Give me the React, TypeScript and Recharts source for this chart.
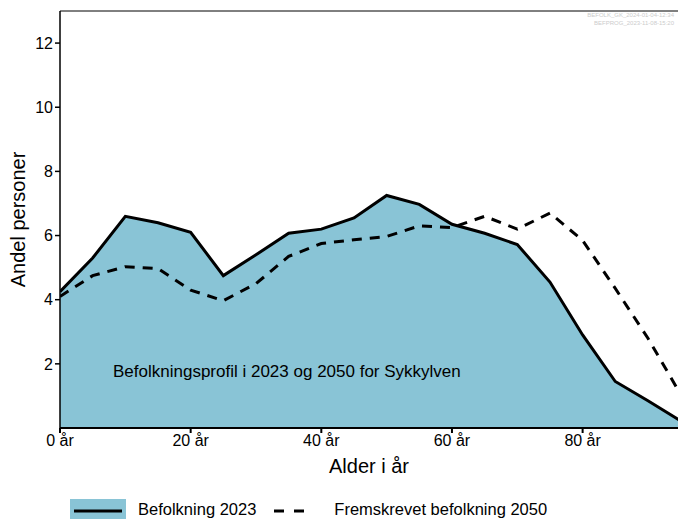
import React from 'react';
import { ComposedChart, Area, Line, XAxis, YAxis, ReferenceLine } from 'recharts';

const ages = [0, 5, 10, 15, 20, 25, 30, 35, 40, 45, 50, 55, 60, 65, 70, 75, 80, 85, 90, 95];
const pop2023 = [4.25, 5.3, 6.6, 6.4, 6.1, 4.75, 5.4, 6.07, 6.2, 6.55, 7.25, 6.97, 6.35, 6.07, 5.72, 4.55, 2.9, 1.45, 0.85, 0.22];
const pop2050 = [4.1, 4.75, 5.03, 4.97, 4.3, 3.97, 4.5, 5.35, 5.75, 5.87, 5.97, 6.3, 6.25, 6.6, 6.2, 6.7, 5.85, 4.35, 2.8, 1.05];
const xTicks = [0, 20, 40, 60, 80];
const yTicks = [2, 4, 6, 8, 10, 12];

const data = ages.map((a, i) => ({ age: a, p2023: pop2023[i], p2050: pop2050[i] }));

const FONT = '"Liberation Sans", Arial, sans-serif';
const FILL = '#89C4D6';

export default function App() {
  return (
    <div style={{ position: 'absolute', left: 0, top: 0, width: 678, height: 519, background: '#fff', fontFamily: FONT }}>
      <ComposedChart width={678} height={519} data={data} margin={{ top: 11, right: 0, left: 0, bottom: 0 }}>
        <XAxis
          dataKey="age"
          type="number"
          domain={[0, 94.6]}
          allowDataOverflow
          ticks={xTicks}
          tickFormatter={(v) => `${v} år`}
          height={91}
          stroke="#000"
          strokeWidth={2}
          tickSize={5}
          tick={{ fill: '#000', fontSize: 16, fontFamily: FONT }}
          label={{ value: 'Alder i år', position: 'insideTop', offset: 31, fill: '#000', fontSize: 20, fontFamily: FONT }}
        />
        <YAxis
          type="number"
          domain={[0, 13]}
          ticks={yTicks}
          width={60}
          stroke="#000"
          strokeWidth={1.5}
          tickSize={5}
          tick={{ fill: '#000', fontSize: 16, fontFamily: FONT }}
          label={{ value: 'Andel personer', angle: -90, position: 'insideLeft', offset: 18, fill: '#000', fontSize: 20, fontFamily: FONT, style: { textAnchor: 'middle' } }}
        />
        <ReferenceLine y={13} stroke="#000" strokeWidth={1} />
        <Area
          type="linear"
          dataKey="p2023"
          fill={FILL}
          fillOpacity={1}
          stroke="#000"
          strokeWidth={3}
          isAnimationActive={false}
          dot={false}
          activeDot={false}
        />
        <Line
          type="linear"
          dataKey="p2050"
          stroke="#000"
          strokeWidth={3}
          strokeDasharray="10 8"
          dot={false}
          activeDot={false}
          isAnimationActive={false}
        />
      </ComposedChart>
      <div style={{ position: 'absolute', left: 113, top: 362, fontSize: 17, color: '#000', whiteSpace: 'nowrap' }}>
        Befolkningsprofil i 2023 og 2050 for Sykkylven
      </div>
      <div style={{ position: 'absolute', right: 4, top: 11, fontSize: 6, color: '#ccc', textAlign: 'right', lineHeight: '8px' }}>
        <div>BEFOLK_GK_2024-01-04-12:34</div>
        <div>BEFPROG_2023-11-08-15:20</div>
      </div>
      <div style={{ position: 'absolute', left: 70, top: 499, height: 21, display: 'flex', alignItems: 'center', fontSize: 16.5, color: '#000', whiteSpace: 'nowrap' }}>
        <svg width={56} height={21} style={{ display: 'block' }}>
          <rect x={0} y={0} width={56} height={21} fill={FILL} />
          <line x1={4} y1={12} x2={52} y2={12} stroke="#000" strokeWidth={3} />
        </svg>
        <span style={{ marginLeft: 12 }}>Befolkning 2023</span>
        <svg width={56} height={21} style={{ display: 'block', marginLeft: 14 }}>
          <line x1={4} y1={12} x2={38} y2={12} stroke="#000" strokeWidth={3} strokeDasharray="10 10" />
        </svg>
        <span style={{ marginLeft: 8 }}>Fremskrevet befolkning 2050</span>
      </div>
    </div>
  );
}
